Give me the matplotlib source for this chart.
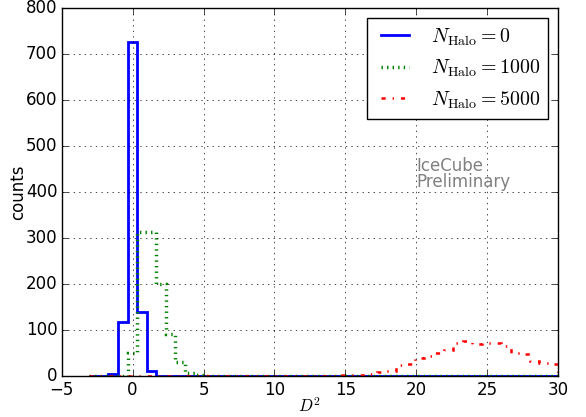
import numpy as np
import matplotlib
matplotlib.use("Agg")
import matplotlib.pyplot as plt
from matplotlib.lines import Line2D

plt.style.use('classic')

# histogram binning of D^2
edges = np.linspace(-3.05, 30.0, 50)

# counts per bin (49 bins)
counts_0 = [0, 0, 3, 117, 726, 139, 10] + [0] * 42
counts_1000 = [0, 0, 0, 0, 48, 313, 313, 199, 90, 30, 5, 2] + [0] * 37
counts_5000 = [0] * 25 + [0, 1, 2, 2, 4, 8, 10, 23, 24, 38, 43, 48, 55, 70,
                          76, 68, 71, 70, 64, 49, 47, 32, 27, 26]

labels = [r'$N_{\rm Halo}=0$', r'$N_{\rm Halo}=1000$', r'$N_{\rm Halo}=5000$']
styles = [('blue', '-', 2.0), ('green', ':', 2.5), ('red', '-.', 1.8)]

fig = plt.figure(figsize=(5.86, 4.17), dpi=100, facecolor='white')
ax = fig.add_axes([0.105, 0.0995, 0.848, 0.8805])

centers = 0.5 * (edges[:-1] + edges[1:])
handles = []
for counts, (col, ls, lw), lab in zip([counts_0, counts_1000, counts_5000], styles, labels):
    ax.hist(centers, bins=edges, weights=counts, histtype='step',
            color=col, lw=lw, ls=ls)
    handles.append(Line2D([], [], color=col, ls=ls, lw=lw, label=lab))

ax.set_xlim(-5, 30)
ax.set_ylim(0, 800)
ax.grid(True)
ax.tick_params(axis='y', pad=3)
ax.set_xlabel(r'$D^2$', labelpad=-1)
ax.set_ylabel('counts', labelpad=-1)

ax.text(20.0, 410, 'IceCube\nPreliminary', color='gray', fontsize=12,
        ha='left', va='baseline', linespacing=0.85)

ax.legend(handles=handles, loc='upper right', fontsize='large')

fig.savefig('out.png', dpi=100)
